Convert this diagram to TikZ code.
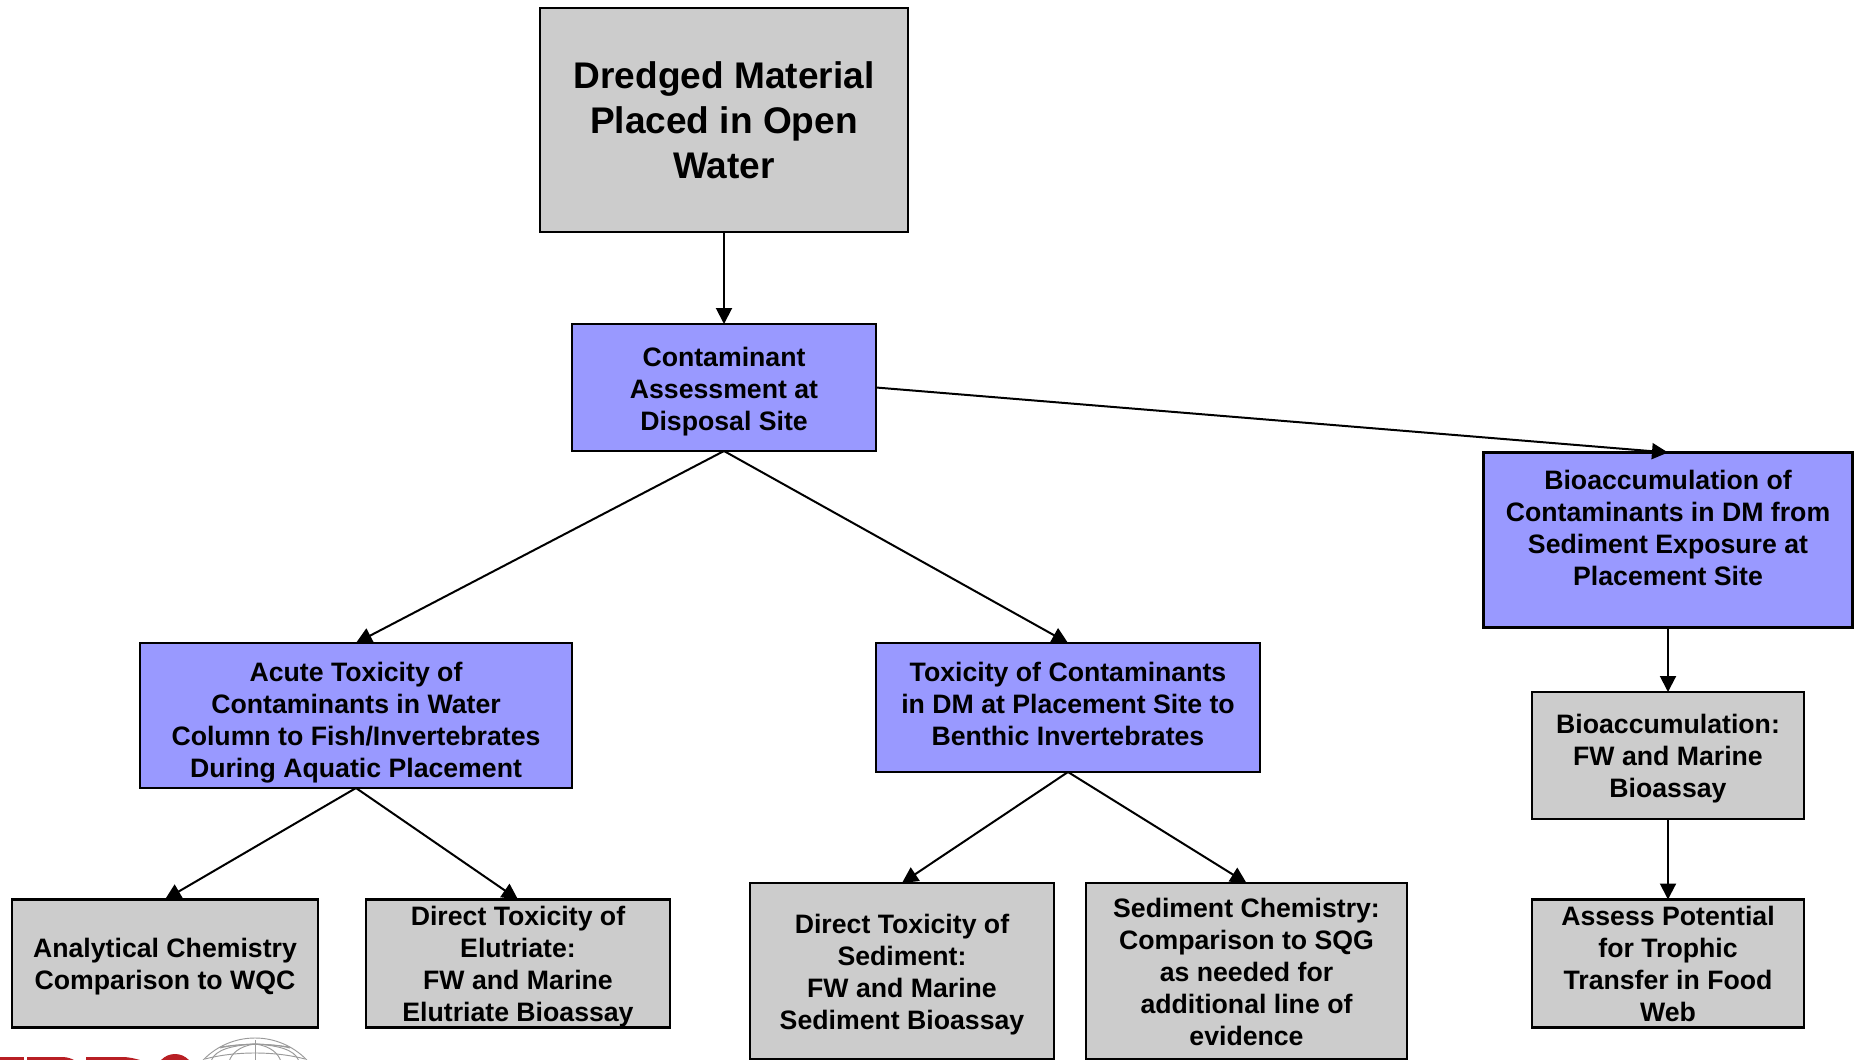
\documentclass[tikz,border=0pt]{standalone}
\usepackage{fontspec}
\setmainfont{Liberation Sans}
\usetikzlibrary{arrows.meta}
\definecolor{boxgray}{HTML}{CCCCCC}
\definecolor{boxblue}{HTML}{9999FF}
\definecolor{logored}{HTML}{B81F24}
\definecolor{globegray}{HTML}{9A9A9A}
\newcommand{\lbl}[2][0pt]{\smash{\raisebox{\dimexpr#1-8.9pt\relax}{\begin{tabular}[c]{@{}c@{}}#2\end{tabular}}}}
\tikzset{
  box/.style={draw=black,line width=1.6pt,inner sep=0pt,outer sep=0pt,font=\bfseries\fontsize{20pt}{24pt}\selectfont},
  graybox/.style={box,fill=boxgray},
  bluebox/.style={box,fill=boxblue},
  sz/.style 2 args={minimum width=#1*0.75pt,minimum height=#2*0.75pt},
  conn/.style={draw=black,line width=1.5pt,-{Triangle[length=12pt,width=12pt]}},
  globe/.style={draw=globegray,line width=0.7pt}
}
\begin{document}
\begin{tikzpicture}[x=0.75pt,y=-0.75pt]
\useasboundingbox (0,0) rectangle (1854,1060);
\fill[white] (0,0) rectangle (1854,1060);
% partial logo at the lower edge
\begin{scope}
\clip (0,1030) rectangle (340,1060);
\fill[logored] (0,1057) rectangle (24,1060);
\fill[logored] (27,1057) -- (62,1057) .. controls (68,1057) and (72,1059) .. (74,1060) -- (27,1060) -- cycle;
\fill[logored] (86,1057) -- (122,1057) .. controls (130,1057) and (136,1059) .. (140,1060) -- (86,1060) -- cycle;
\fill[logored] (175,1073) circle (19);
\draw[globe] (255,1110) circle (72);
\begin{scope}
\clip (255,1110) circle (72);
\foreach \w in {16,34,52}{
  \draw[globe] (255,1044) .. controls ({255-\w},1046) and ({255-\w-8},1054) .. ({255-\w-10},1062);
  \draw[globe] (255,1044) .. controls ({255+\w},1046) and ({255+\w+8},1054) .. ({255+\w+10},1062);
}
\draw[globe] (255,1040) -- (255,1062);
\draw[globe] (220,1048) .. controls (240,1043) and (270,1043) .. (290,1048);
\draw[globe] (205,1059) .. controls (235,1051) and (275,1051) .. (305,1059);
\end{scope}
\end{scope}
% boxes
\node[graybox,sz={368}{224},font=\bfseries\fontsize{27.8pt}{33.6pt}\selectfont] (top) at (724,120) {\lbl[-0.6pt]{Dredged Material\\Placed in Open\\Water}};
\node[bluebox,sz={304}{127}] (cont) at (724,387.5) {\lbl{Contaminant\\Assessment at\\Disposal Site}};
\node[bluebox,sz={369}{175}] (bio) at (1668,540) {\lbl[10.5pt]{Bioaccumulation of\\Contaminants in DM from\\Sediment Exposure at\\Placement Site}};
\node[bluebox,sz={432}{145}] (acute) at (356,715.5) {\lbl[-2pt]{Acute Toxicity of\\Contaminants in Water\\Column to Fish/Invertebrates\\During Aquatic Placement}};
\node[bluebox,sz={384}{129}] (tox) at (1068,707.5) {\lbl[4pt]{Toxicity of Contaminants\\in DM at Placement Site to\\Benthic Invertebrates}};
\node[graybox,sz={272}{127}] (fw) at (1668,755.5) {\lbl[1pt]{Bioaccumulation:\\FW and Marine\\Bioassay}};
\node[graybox,sz={272}{128}] (assess) at (1668,963.5) {\lbl[1pt]{Assess Potential\\for Trophic\\Transfer in Food\\Web}};
\node[graybox,sz={306}{128}] (anal) at (165,963.5) {\lbl[1pt]{Analytical Chemistry\\Comparison to WQC}};
\node[graybox,sz={304}{128}] (delut) at (518,963.5) {\lbl[1pt]{Direct Toxicity of\\Elutriate:\\FW and Marine\\Elutriate Bioassay}};
\node[graybox,sz={304}{176}] (dsed) at (902,971) {\lbl[0.8pt]{Direct Toxicity of\\Sediment:\\FW and Marine\\Sediment Bioassay}};
\node[graybox,sz={321}{176}] (schem) at (1246.5,971) {\lbl[0.8pt]{Sediment Chemistry:\\Comparison to SQG\\as needed for\\additional line of\\evidence}};
% connectors
\draw[conn] (top.south) -- (cont.north);
\draw[conn] (cont.east) -- (bio.north);
\draw[conn] (cont.south) -- (acute.north);
\draw[conn] (cont.south) -- (tox.north);
\draw[conn] (acute.south) -- (anal.north);
\draw[conn] (acute.south) -- (delut.north);
\draw[conn] (tox.south) -- (dsed.north);
\draw[conn] (tox.south) -- (schem.north);
\draw[conn] (bio.south) -- (fw.north);
\draw[conn] (fw.south) -- (assess.north);
\end{tikzpicture}
\end{document}
